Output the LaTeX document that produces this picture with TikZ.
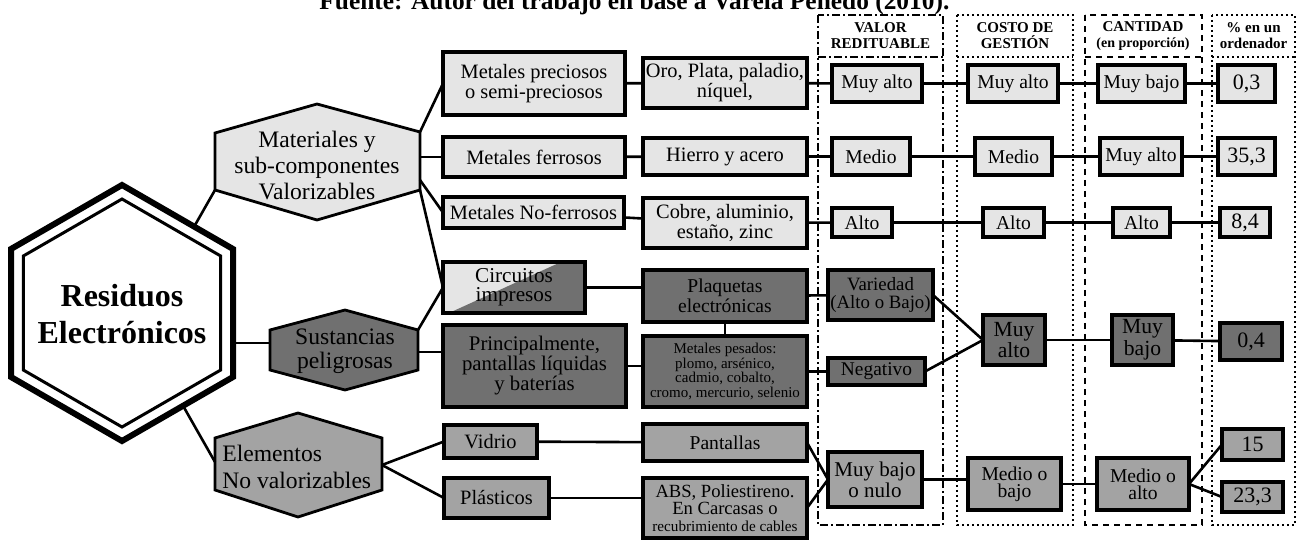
\documentclass[tikz,border=0pt]{standalone}
\usepackage{fontspec}
\setmainfont{Liberation Serif}
\usetikzlibrary{calc}
\definecolor{lt}{RGB}{229,229,229}
\definecolor{md}{RGB}{163,163,163}
\definecolor{dk}{RGB}{112,112,112}
\newcommand{\fz}[2]{\fontsize{#1}{#2}\selectfont}
% style, name, x1, y1, x2, y2, text
\newcommand{\bx}[7]{\node[#1, minimum width={(#5-#3)*0.5pt}, minimum height={(#6-#4)*0.5pt}] (#2) at ({(#3+#5)/2},{(#4+#6)/2}) {#7};}
\tikzset{
  bxs/.style={draw, line width=1.6pt, inner sep=0pt, outer sep=0pt, align=center, font=\fz{10.2}{10}},
  lbox/.style={bxs, fill=lt},
  dbox/.style={bxs, fill=dk},
  mbox/.style={bxs, fill=md},
  vfont/.style={font=\fz{9.8}{9}},
  pfont/.style={font=\fz{11}{10}},
  con/.style={line width=1.3pt},
  hexs/.style={draw, line width=1.4pt, line join=miter},
  hdr/.style={font=\bfseries\fz{7.5}{8}, align=center},
  dashdotcol/.style={line width=0.8pt, dash pattern=on 4pt off 1.5pt on 1pt off 1.5pt},
  dotcol/.style={line width=0.9pt, dash pattern=on 0.9pt off 1.6pt},
  dashcol/.style={line width=0.8pt, dash pattern=on 3pt off 2.5pt},
}
\begin{document}
\begin{tikzpicture}[x=0.5pt, y=-0.5pt]
\useasboundingbox (0,0) rectangle (1298,540);

% title (cut at the top)
\node[font=\bfseries\fz{12.7}{14}, anchor=base west, inner sep=0pt] (title) at (319,10) {Fuente: Autor del trabajo en base a Varela Penedo (2010).};

% column frames
\draw[dashdotcol] (818,15) rectangle (943,525);
\draw[dashdotcol] (818,57) -- (943,57);
\draw[dotcol] (957,15) rectangle (1073,525);
\draw[dotcol] (957,57) -- (1073,57);
\draw[dashcol] (1085,15) rectangle (1202,525);
\draw[dashcol] (1085,57) -- (1202,57);
\draw[dotcol] (1212,15) rectangle (1295,525);
\draw[dotcol] (1212,57) -- (1295,57);
\node[hdr] (h1) at (880.5,36) {VALOR\\REDITUABLE};
\node[hdr] (h2) at (1015,36) {COSTO DE\\GESTIÓN};
\node[hdr] (h3) at (1143,36) {CANTIDAD\\{\fz{7}{8}(en proporción)}};
\node[hdr] (h4) at (1253.5,36) {\% en un\\ordenador};

% big hexagon
\coordinate (bhT) at (122,185);
\coordinate (bhUR) at (233,249);
\coordinate (bhLR) at (233,377);
\coordinate (bhB) at (122,441);
\coordinate (bhLL) at (11,377);
\coordinate (bhUL) at (11,249);
\draw[line width=3pt, line join=miter, fill=white] (bhT) -- (bhUR) -- (bhLR) -- (bhB) -- (bhLL) -- (bhUL) -- cycle;
\draw[line width=1.5pt, line join=miter] (122,199) -- (220.7,256) -- (220.7,370) -- (122,427) -- (23.3,370) -- (23.3,256) -- cycle;
\node[font=\bfseries\fz{16}{18.5}, align=center] (res) at (122,314) {Residuos\\Electrónicos};
\coordinate (bhA) at ($(bhT)!0.65!(bhUR)$);
\coordinate (bhR) at (233,343);
\coordinate (bhC) at ($(bhLR)!0.45!(bhB)$);

% hexagon Materiales
\draw[hexs, fill=lt] (317,104) -- (420,132) -- (420,190) -- (317,220) -- (215,190) -- (215,133) -- cycle;
\node[font=\fz{11.8}{13}, align=center] (mat) at (317,165) {Materiales y\\sub-componentes\\Valorizables};
\coordinate (matUR) at (420,132);
\coordinate (matR) at (420,157);
\coordinate (matR2) at (420,180);
\coordinate (matLR) at (420,190);
\coordinate (matLL) at (215,190);

% hexagon Sustancias
\draw[hexs, fill=dk] (345,310) -- (418,330) -- (418,370) -- (345,390) -- (270,370) -- (270,330) -- cycle;
\node[font=\fz{11.8}{12}, align=center] (sus) at (345,351) {Sustancias\\peligrosas};
\coordinate (susUR) at (418,330);
\coordinate (susR) at (418,352);
\coordinate (susL) at (270,343);

% hexagon Elementos
\draw[hexs, fill=md] (298,413) -- (382,438) -- (382,490) -- (298,517) -- (215,490) -- (215,438) -- cycle;
\node[font=\fz{11.8}{13.5}, align=left, anchor=west, inner sep=0pt] (ele) at (222,467) {Elementos\\No valorizables};
\coordinate (eleR) at (382,465);
\coordinate (eleL) at (215,462);

% light rows
\bx{lbox}{mp}{443}{52}{625}{115}{Metales preciosos\\o semi-preciosos}
\bx{lbox}{oro}{643}{58}{807}{108}{Oro, Plata, paladio,\\níquel,}
\bx{lbox}{mf}{443}{137}{625}{177}{Metales ferrosos}
\bx{lbox}{hi}{643}{138}{807}{175}{Hierro y acero}
\bx{lbox}{mn}{443}{197}{624}{228}{Metales No-ferrosos}
\bx{lbox}{co}{643}{198}{807}{248}{Cobre, aluminio,\\estaño, zinc}
\bx{lbox,vfont}{v1}{832}{65}{922}{102}{Muy alto}
\bx{lbox,vfont}{v2}{832}{138}{910}{175}{Medio}
\bx{lbox,vfont}{v3}{832}{208}{892}{237}{Alto}
\bx{lbox,vfont}{c1}{968}{65}{1058}{102}{Muy alto}
\bx{lbox,vfont}{c2}{975}{138}{1052}{175}{Medio}
\bx{lbox,vfont}{c3}{983}{208}{1044}{237}{Alto}
\bx{lbox,vfont}{q1}{1098}{65}{1185}{102}{Muy bajo}
\bx{lbox,vfont}{q2}{1100}{138}{1182}{175}{Muy alto}
\bx{lbox,vfont}{q3}{1113}{208}{1170}{237}{Alto}
\bx{lbox,pfont}{p1}{1218}{65}{1275}{102}{0,3}
\bx{lbox,pfont}{p2}{1218}{138}{1275}{175}{35,3}
\bx{lbox,pfont}{p3}{1220}{208}{1270}{237}{8,4}

% dark rows
\bx{bxs, font=\fz{10.6}{9.6}, path picture={
   \fill[lt] (path picture bounding box.south west) rectangle (path picture bounding box.north east);
   \fill[dk] ($(path picture bounding box.south west)+(3pt,0)$) -- (path picture bounding box.south east) -- (path picture bounding box.north east) -- ($(path picture bounding box.north east)+(-12pt,0)$) -- cycle;}}{ci}{443}{262}{585}{313}{Circuitos\\impresos}
\bx{dbox, font=\fz{9.8}{8.8}}{pl}{643}{270}{807}{322}{Plaquetas\\electrónicas}
\bx{dbox, font=\fz{10.4}{10}}{pr}{443}{325}{626}{407}{Principalmente,\\pantallas líquidas\\y baterías}
\bx{dbox, font=\fz{7.5}{7.4}}{mpz}{643}{336}{807}{407}{Metales pesados:\\plomo, arsénico,\\cadmio, cobalto,\\cromo, mercurio, selenio}
\bx{dbox, font=\fz{9.4}{8.6}}{va}{828}{270}{933}{320}{Variedad\\(Alto o Bajo)}
\bx{dbox, font=\fz{9.7}{9}}{ne}{828}{358}{925}{385}{Negativo}
\bx{dbox, font=\fz{10.8}{9}}{c4}{983}{315}{1045}{365}{Muy\\alto}
\bx{dbox, font=\fz{10.8}{9}}{q4}{1112}{315}{1173}{365}{Muy\\bajo}
\bx{dbox,pfont}{p4}{1220}{323}{1282}{360}{0,4}

% medium rows
\bx{mbox}{vi}{444}{425}{537}{458}{Vidrio}
\bx{mbox, font=\fz{9.8}{9}}{pa}{643}{424}{807}{461}{Pantallas}
\bx{mbox}{pls}{444}{478}{549}{518}{Plásticos}
\bx{mbox, font=\fz{9.3}{8.4}}{abs}{643}{478}{807}{538}{ABS, Poliestireno.\\En Carcasas o\\{\fz{7.6}{7.4}recubrimiento de cables}}
\bx{mbox, font=\fz{10.5}{8.6}}{mbn}{828}{452}{922}{507}{Muy bajo\\o nulo}
\bx{mbox, font=\fz{9.8}{8.6}}{mob}{968}{458}{1061}{510}{Medio o\\bajo}
\bx{mbox, font=\fz{9.8}{8.6}}{moa}{1097}{458}{1189}{510}{Medio o\\alto}
\bx{mbox,pfont}{p5}{1222}{429}{1283}{460}{15}
\bx{mbox,pfont}{p6}{1222}{482}{1283}{512}{23,3}

% connectors
\draw[con] (bhA) -- (matLL);
\draw[con] (bhR) -- (susL);
\draw[con] (bhC) -- (eleL);
\draw[con] (matUR) -- (mp.west);
\draw[con] (matR) -- (mf.west);
\draw[con] (matR2) -- (mn.west);
\draw[con] (matLR) -- (ci.west);
\draw[con] (susUR) -- (ci.west);
\draw[con] (susR) -- (susR -| pr.west);
\draw[con] (eleR) -- (vi.west);
\draw[con] (eleR) -- (pls.west);

\draw[con] (mp) -- (oro);
\draw[con] (oro) -- (v1);
\draw[con] (v1) -- (c1);
\draw[con] (c1) -- (q1);
\draw[con] (q1) -- (p1);
\draw[con] (mf) -- (hi);
\draw[con] (hi) -- (v2);
\draw[con] (v2) -- (c2);
\draw[con] (c2) -- (q2);
\draw[con] (q2) -- (p2);
\draw[con] (mn) -- (co);
\draw[con] (co) -- (v3);
\draw[con] (v3) -- (c3);
\draw[con] (c3) -- (q3);
\draw[con] (q3) -- (p3);

\draw[con] (ci.east) -- (ci.east -| pl.west);
\draw[con] (pl) -- (mpz);
\draw[con] (pr.east) -- (pr.east -| mpz.west);
\draw[con] (pl) -- (va);
\draw[con] (mpz) -- (ne);
\draw[con] (va.east) -- (c4.west);
\draw[con] (ne.east) -- (c4.west);
\draw[con] (c4) -- (q4);
\draw[con] (q4) -- (p4);

\draw[con] (vi) -- (pa);
\draw[con] (pls.east) -- (pls.east -| abs.west);
\draw[con] (pa.east) -- (mbn.west);
\draw[con] (abs.east) -- (mbn.west);
\draw[con] (mbn.east) -- (mbn.east -| mob.west);
\draw[con] (mob) -- (moa);
\draw[con] (moa.east) -- (p5.west);
\draw[con] (moa.east) -- (p6.west);
\end{tikzpicture}
\end{document}
